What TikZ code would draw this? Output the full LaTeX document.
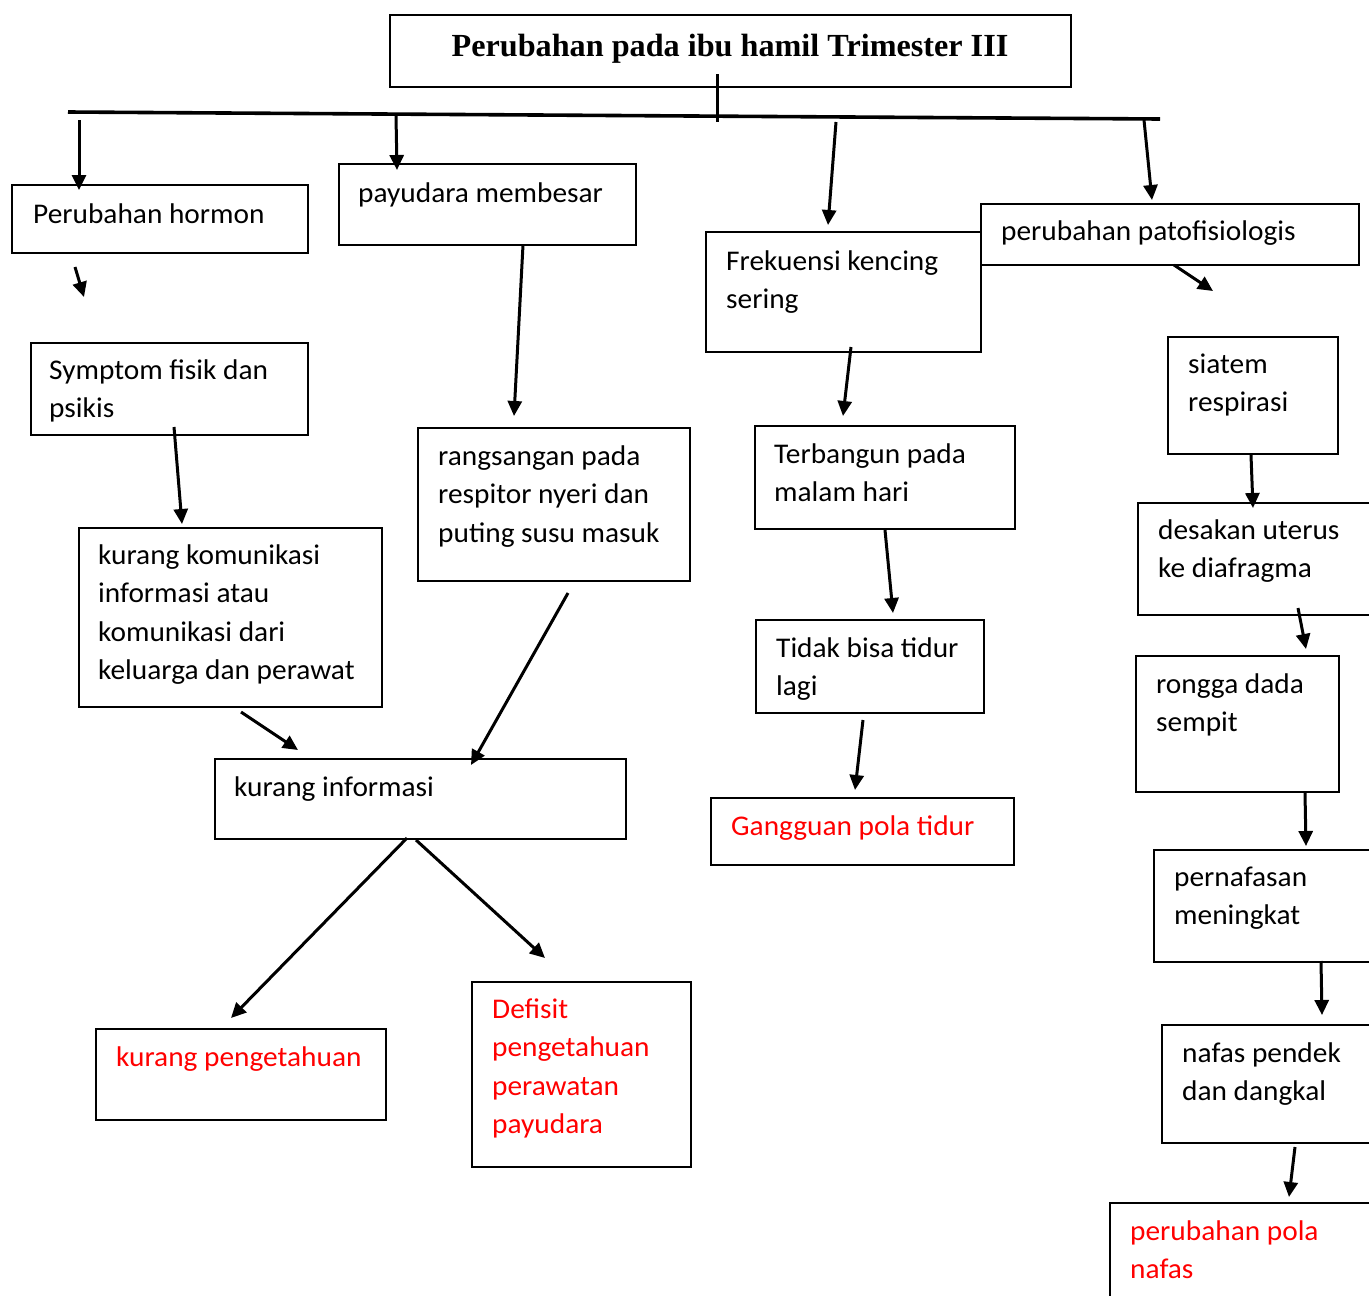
\documentclass[tikz,border=0pt]{standalone}
\usepackage{fontspec}
\setmainfont[FakeStretch=1.03]{Carlito}
\newfontfamily\titlefont{Liberation Serif}
\usetikzlibrary{arrows.meta}
\tikzset{
  box/.style={draw=black, line width=1.6pt, rectangle, inner sep=0pt, anchor=north west},
  txt/.style={anchor=north west, inner sep=0pt, align=left, font=\fontsize{28.5}{38.5}\selectfont},
  redtxt/.style={txt, text=red},
  arr/.style={line width=3pt, -{Triangle[length=15pt,width=14pt]}},
}
\newcommand{\tl}{\rule{0pt}{23pt}}
\begin{document}
\begin{tikzpicture}[x=1pt,y=-1pt]
\useasboundingbox (0,0) rectangle (1369,1296);
\fill[white] (0,0) rectangle (1369,1296);

% title
\node[box, minimum width=681pt, minimum height=72pt] (title) at (389,14) {};
\node[anchor=base, inner sep=0pt, font=\titlefont\bfseries\fontsize{32.2}{36}\selectfont] (titletxt) at (730,56) {Perubahan pada ibu hamil Trimester III};

% bar
\coordinate (barL) at (68,112);
\coordinate (barR) at (1160,119);
\draw[line width=3.6pt] (barL) -- (barR);
\coordinate (tickT) at (717,74);
\coordinate (tickB) at (717,122);
\draw[line width=3pt] (tickT) -- (tickB);

% boxes
\node[box, minimum width=296pt, minimum height=68pt] (hormon) at (11,184) {};
\node[txt] (hormonT) at (33,200) {\tl Perubahan hormon};

\node[box, minimum width=297pt, minimum height=81pt] (payu) at (338,163) {};
\node[txt] (payuT) at (358,179) {\tl payudara membesar};

\node[box, minimum width=275pt, minimum height=120pt] (frek) at (705,231) {};
\node[txt] (frekT) at (726,247) {\tl Frekuensi kencing\\sering};

\node[box, minimum width=378pt, minimum height=61pt] (pato) at (980,203) {};
\node[txt] (patoT) at (1001,217) {\tl perubahan patofisiologis};

\node[box, minimum width=277pt, minimum height=92pt] (sympt) at (30,342) {};
\node[txt] (symptT) at (49,356) {\tl Symptom fisik dan\\psikis};

\node[box, minimum width=272pt, minimum height=153pt] (rang) at (417,427) {};
\node[txt] (rangT) at (438,442) {\tl rangsangan pada\\respitor nyeri dan\\puting susu masuk};

\node[box, minimum width=303pt, minimum height=179pt] (komu) at (78,527) {};
\node[txt] (komuT) at (98,541) {\tl kurang komunikasi\\informasi atau\\komunikasi dari\\keluarga dan perawat};

\node[box, minimum width=411pt, minimum height=80pt] (info) at (214,758) {};
\node[txt] (infoT) at (234,773) {\tl kurang informasi};

\node[box, minimum width=290pt, minimum height=91pt] (peng) at (95,1028) {};
\node[redtxt] (pengT) at (116,1043) {\tl kurang pengetahuan};

\node[box, minimum width=219pt, minimum height=185pt] (defi) at (471,981) {};
\node[redtxt] (defiT) at (492,995) {\tl Defisit\\pengetahuan\\perawatan\\payudara};

\node[box, minimum width=260pt, minimum height=103pt] (bangun) at (754,425) {};
\node[txt] (bangunT) at (774,440) {\tl Terbangun pada\\malam hari};

\node[box, minimum width=228pt, minimum height=93pt] (tidak) at (755,619) {};
\node[txt] (tidakT) at (776,634) {\tl Tidak bisa tidur\\lagi};

\node[box, minimum width=303pt, minimum height=67pt] (ggn) at (710,797) {};
\node[redtxt] (ggnT) at (731,812) {\tl Gangguan pola tidur};

\node[box, minimum width=170pt, minimum height=117pt] (resp) at (1167,336) {};
\node[txt] (respT) at (1188,350) {\tl siatem\\respirasi};

\node[box, minimum width=240pt, minimum height=112pt] (desak) at (1137,502) {};
\node[txt] (desakT) at (1158,516) {\tl desakan uterus\\ke diafragma};

\node[box, minimum width=203pt, minimum height=136pt] (rongga) at (1135,655) {};
\node[txt] (ronggaT) at (1156,670) {\tl rongga dada\\sempit};

\node[box, minimum width=224pt, minimum height=112pt] (napas) at (1153,849) {};
\node[txt] (napasT) at (1174,863) {\tl pernafasan\\meningkat};

\node[box, minimum width=216pt, minimum height=118pt] (pendek) at (1161,1024) {};
\node[txt] (pendekT) at (1182,1039) {\tl nafas pendek\\dan dangkal};

\node[box, minimum width=268pt, minimum height=110pt] (pola) at (1109,1202) {};
\node[redtxt] (polaT) at (1130,1217) {\tl perubahan pola\\nafas};

% arrow coordinates
\coordinate (a1s) at (79,120);   \coordinate (a1e) at (79,190);
\coordinate (a2s) at (396,116);  \coordinate (a2e) at (397,170);
\coordinate (a3s) at (836,122);  \coordinate (a3e) at (828,225);
\coordinate (a4s) at (1144,120); \coordinate (a4e) at (1152,200);
\coordinate (a5s) at (75,267);   \coordinate (a5e) at (84,297);
\coordinate (a6s) at (174,427);  \coordinate (a6e) at (182,524);
\coordinate (a7s) at (523,245);  \coordinate (a7e) at (514,416);
\coordinate (a8s) at (241,712);  \coordinate (a8e) at (298,750);
\coordinate (a9s) at (568,593);  \coordinate (a9e) at (471,765);
\coordinate (a10s) at (407,838); \coordinate (a10e) at (231,1018);
\coordinate (a11s) at (416,840); \coordinate (a11e) at (545,958);
\coordinate (a12s) at (851,347); \coordinate (a12e) at (843,416);
\coordinate (a13s) at (885,530); \coordinate (a13e) at (893,613);
\coordinate (a14s) at (863,720); \coordinate (a14e) at (855,790);
\coordinate (a15s) at (1174,265); \coordinate (a15e) at (1213,291);
\coordinate (a16s) at (1251,455); \coordinate (a16e) at (1253,508);
\coordinate (a17s) at (1298,608); \coordinate (a17e) at (1306,649);
\coordinate (a18s) at (1305,793); \coordinate (a18e) at (1306,846);
\coordinate (a19s) at (1321,961); \coordinate (a19e) at (1322,1015);
\coordinate (a20s) at (1295,1147); \coordinate (a20e) at (1289,1197);

\foreach \i in {1,...,20} {\draw[arr] (a\i s) -- (a\i e);}
\end{tikzpicture}
\end{document}
